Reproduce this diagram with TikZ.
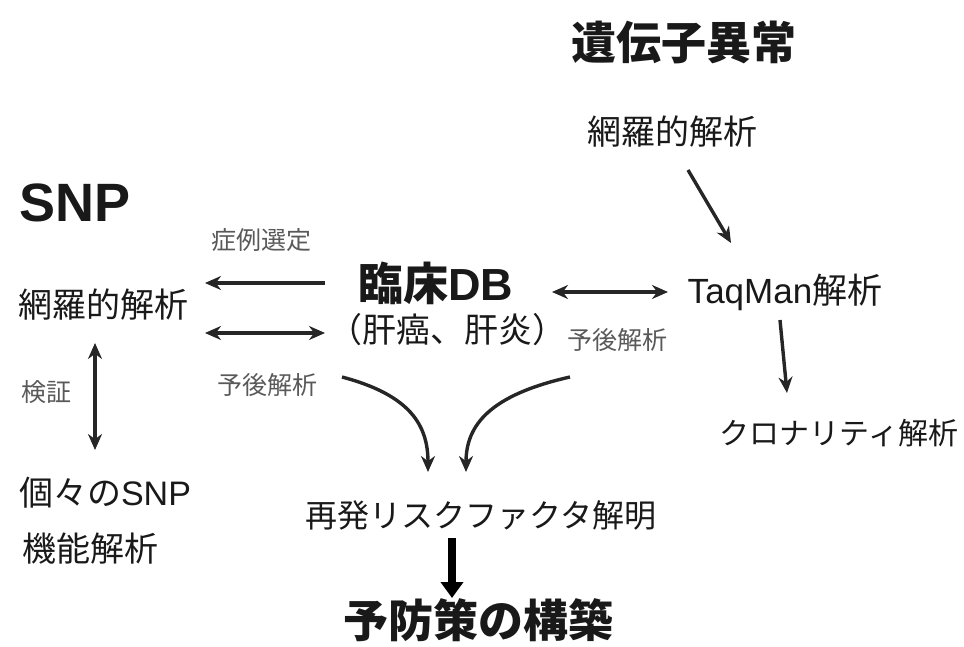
\documentclass[tikz,border=0pt]{standalone}
\usepackage{fontspec}
\setmainfont{Noto Sans CJK JP}
\newfontfamily\latf{Liberation Sans}
\usetikzlibrary{arrows.meta}
\begin{document}
\begin{tikzpicture}[x=1pt,y=-1pt,
  every node/.style={inner sep=0pt,text=black!90},
  big/.style={font=\fontsize{45}{48}\selectfont\bfseries},
  mid/.style={font=\fontsize{34}{38}\selectfont},
  lbl/.style={font=\fontsize{25}{28}\selectfont,text=black!65},
  arr/.style={line width=3.4pt,-{Stealth[length=16pt,width=14pt]},draw=black!85},
  darr/.style={line width=3.4pt,{Stealth[length=16pt,width=14pt]}-{Stealth[length=16pt,width=14pt]},draw=black!85}]
\useasboundingbox (0,0) rectangle (964,647);
\node[big] (gene) at (684,42) {遺伝子異常};
\node[mid] (compR) at (672,132) {網羅的解析};
\node[font=\fontsize{54}{58}\selectfont\bfseries\latf] (snp) at (75,203) {SNP};
\node[lbl] (sel) at (261,240) {症例選定};
\node[big] (db) at (436,283) {臨床{\latf DB}};
\node[mid] (dbsub) at (447,330) {（肝癌、肝炎）};
\node[mid] (compL) at (103,305) {網羅的解析};
\node[lbl] (progL) at (267,385) {予後解析};
\node[lbl] (progR) at (617,340) {予後解析};
\node[font=\fontsize{35}{38}\selectfont] (taq) at (785,292) {{\latf TaqMan}解析};
\node[font=\fontsize{30}{34}\selectfont] (clon) at (839,433) {クロナリティ解析};
\node[mid] (indiv) at (105,493) {個々の{\latf SNP}};
\node[lbl] (ver) at (46,392) {検証};
\node[mid] (func) at (91,549) {機能解析};
\node[font=\fontsize{32}{36}\selectfont] (risk) at (481,515) {再発リスクファクタ解明};
\node[big] (prev) at (478,620) {予防策の構築};
\coordinate (a1s) at (325,283); \coordinate (a1e) at (205,283);
\coordinate (a2s) at (205,333); \coordinate (a2e) at (325,333);
\coordinate (a3s) at (552,292); \coordinate (a3e) at (668,292);
\coordinate (a4s) at (688,170); \coordinate (a4e) at (731,243);
\coordinate (a5s) at (780,320); \coordinate (a5e) at (787,393);
\coordinate (a6s) at (95,343); \coordinate (a6e) at (95,450);
\coordinate (c1s) at (342,377); \coordinate (c1e) at (428,472);
\coordinate (c2s) at (570,377); \coordinate (c2e) at (466,472);
\coordinate (t1s) at (452,538); \coordinate (t1e) at (452,598);
\draw[arr] (a1s) -- (a1e);
\draw[darr] (a2s) -- (a2e);
\draw[darr] (a3s) -- (a3e);
\draw[arr] (a4s) -- (a4e);
\draw[arr] (a5s) -- (a5e);
\draw[darr] (a6s) -- (a6e);
\draw[arr] (c1s) .. controls (410,395) and (428,425) .. (c1e);
\draw[arr] (c2s) .. controls (490,395) and (466,425) .. (c2e);
\draw[line width=8pt,-{Triangle[length=16pt,width=22pt]},draw=black] (t1s) -- (t1e);
\end{tikzpicture}
\end{document}
